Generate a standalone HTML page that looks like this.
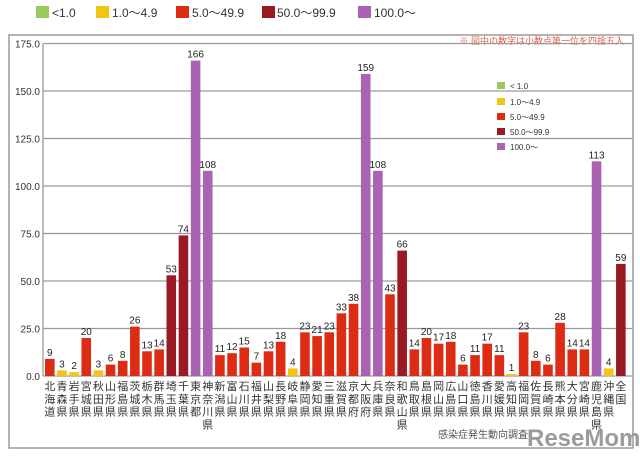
<!DOCTYPE html>
<html><head><meta charset="utf-8"><style>
body{margin:0;background:#fff;width:640px;height:456px;overflow:hidden}
svg{font-family:"Liberation Sans","Noto Sans CJK JP",sans-serif}
</style></head><body>
<svg id="s" width="640" height="456" xmlns="http://www.w3.org/2000/svg">
<rect x="9" y="35" width="624" height="413" fill="#fff" stroke="#9a9a9a" stroke-width="1.5"/>
<g font-size="12" fill="#333">
<rect x="36" y="6" width="13" height="12" fill="#9cc860"/><text x="52" y="17">&lt;1.0</text>
<rect x="96" y="6" width="13" height="12" fill="#f2c414"/><text x="112" y="17">1.0～4.9</text>
<rect x="176" y="6" width="13" height="12" fill="#dc2c14"/><text x="192" y="17">5.0～49.9</text>
<rect x="262" y="6" width="13" height="12" fill="#9a1a24"/><text x="277" y="17">50.0～99.9</text>
<rect x="358" y="6" width="13" height="12" fill="#aa62b2"/><text x="374" y="17">100.0～</text>
</g>
<text x="624" y="44" font-size="9" fill="#e0604a" text-anchor="end">※ 図中の数字は小数点第一位を四捨五入</text>
<g id="g"></g>
<g font-size="8" fill="#333">
<rect x="497" y="82" width="8" height="7" fill="#9cc860"/><text x="510" y="89">&lt; 1.0</text>
<rect x="497" y="98" width="8" height="7" fill="#f2c414"/><text x="510" y="105">1.0～4.9</text>
<rect x="497" y="113" width="8" height="7" fill="#dc2c14"/><text x="510" y="120">5.0～49.9</text>
<rect x="497" y="128" width="8" height="7" fill="#9a1a24"/><text x="510" y="135">50.0～99.9</text>
<rect x="497" y="143" width="8" height="7" fill="#aa62b2"/><text x="510" y="150">100.0～</text>
</g>
<text x="438" y="438" font-size="10" fill="#555">感染症発生動向調査</text>
<text x="527" y="446" font-size="24" font-weight="bold" fill="#8a8a8a" opacity="0.85">ReseMom</text>
</svg>
<script>
var v=[9,3,2,20,3,6,8,26,13,14,53,74,166,108,11,12,15,7,13,18,4,23,21,23,33,38,159,108,43,66,14,20,17,18,6,11,17,11,1,23,8,6,28,14,14,113,4,59];
var n="北海道 青森県 岩手県 宮城県 秋田県 山形県 福島県 茨城県 栃木県 群馬県 埼玉県 千葉県 東京都 神奈川県 新潟県 富山県 石川県 福井県 山梨県 長野県 岐阜県 静岡県 愛知県 三重県 滋賀県 京都府 大阪府 兵庫県 奈良県 和歌山県 鳥取県 島根県 岡山県 広島県 山口県 徳島県 香川県 愛媛県 高知県 福岡県 佐賀県 長崎県 熊本県 大分県 宮崎県 鹿児島県 沖縄県 全国".split(" ");
var h='',y0=376,k=1.9;
for(var i=0;i<=7;i++){var y=y0-i*25*k;h+='<line x1="43" x2="632" y1="'+y+'" y2="'+y+'" stroke="#9a9a9a" stroke-width="1.3"/>';
h+='<text x="40" y="'+(y+4)+'" font-size="10" fill="#333" text-anchor="end">'+(i*25).toFixed(1)+'</text>';}
h+='<line x1="43" x2="43" y1="'+(y0-175*k)+'" y2="'+y0+'" stroke="#9a9a9a" stroke-width="1.3"/>';
for(var i=0;i<48;i++){var x=45+i*12.15,a=v[i],c=a<5?'#f2c414':a<50?'#dc2c14':a<100?'#9a1a24':'#aa62b2';
var hh=Math.max(a*k,2);h+='<rect x="'+x+'" y="'+(y0-hh)+'" width="9.6" height="'+hh+'" fill="'+c+'"/>';
h+='<text x="'+(x+4.8)+'" y="'+(y0-hh-3)+'" font-size="10" fill="#222" text-anchor="middle">'+a+'</text>';
for(var j=0;j<n[i].length;j++)h+='<text x="'+(x+4.8)+'" y="'+(390+j*12.8)+'" font-size="11" fill="#333" text-anchor="middle">'+n[i][j]+'</text>';}
document.getElementById('g').innerHTML=h;
</script>
</body></html>
